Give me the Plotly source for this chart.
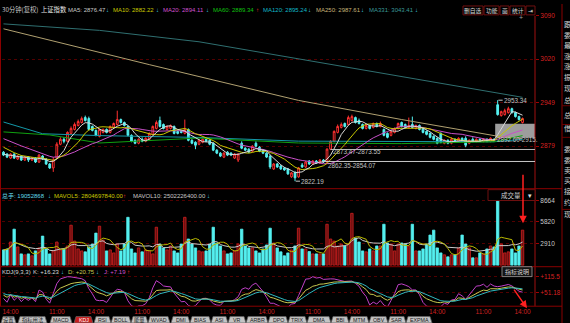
import numpy as np
import pandas as pd
import plotly.graph_objects as go

W, H = 570, 323
def px(x):
    return x / W
def py(y):
    return 1 - y / H

# ---------------- data ----------------
opens = [2869.2, 2866.0, 2859.6, 2866.0, 2858.0, 2862.8, 2856.4, 2861.2, 2856.4, 2859.6,
         2853.2, 2862.8, 2858.0, 2850.0, 2843.6, 2859.6, 2882.0, 2890.0, 2886.8, 2899.6,
         2906.0, 2912.4, 2917.2, 2925.2, 2923.6, 2910.8, 2904.4, 2894.8, 2901.2, 2906.0,
         2901.2, 2909.2, 2914.0, 2922.0, 2917.2, 2910.8, 2896.4, 2888.4, 2883.6, 2890.0,
         2886.8, 2890.0, 2898.0, 2907.6, 2920.4, 2914.0, 2906.0, 2907.6, 2910.8, 2902.8,
         2902.8, 2899.6, 2906.0, 2888.4, 2885.2, 2882.0, 2885.2, 2890.0, 2888.4, 2883.6,
         2872.4, 2867.6, 2861.2, 2869.2, 2867.6, 2859.6, 2856.4, 2883.6, 2875.6, 2874.0,
         2870.8, 2883.6, 2877.2, 2872.4, 2867.6, 2862.8, 2842.0, 2850.0, 2846.8, 2843.6,
         2842.0, 2829.2, 2835.6, 2829.2, 2848.4, 2845.2, 2854.8, 2850.0, 2854.8, 2851.6,
         2856.4, 2853.2, 2874.0, 2886.8, 2901.2, 2909.2, 2915.6, 2914.0, 2920.4, 2925.2,
         2920.4, 2914.0, 2907.6, 2912.4, 2909.2, 2915.6, 2910.8, 2906.0, 2899.6, 2896.4,
         2901.2, 2907.6, 2917.2, 2914.0, 2909.2, 2914.0, 2907.6, 2912.4, 2907.6, 2902.8,
         2899.6, 2894.8, 2891.6, 2899.6, 2883.6, 2888.4, 2883.6, 2890.0, 2886.8, 2891.6,
         2891.6, 2883.6, 2890.0, 2886.8, 2890.0, 2886.8, 2890.0, 2886.8, 2890.0, 2946.0,
         2928.4, 2930.0, 2933.2, 2939.6, 2933.2, 2926.8, 2917.2]
closes = [2864.4, 2861.2, 2866.0, 2859.6, 2862.8, 2856.4, 2861.2, 2856.4, 2859.6, 2853.2,
          2864.4, 2858.0, 2850.0, 2843.6, 2856.4, 2882.0, 2890.0, 2886.8, 2901.2, 2907.6,
          2914.0, 2918.8, 2923.6, 2920.4, 2906.0, 2904.4, 2896.4, 2906.0, 2906.0, 2901.2,
          2910.8, 2915.6, 2922.0, 2917.2, 2912.4, 2896.4, 2886.8, 2883.6, 2890.0, 2886.8,
          2891.6, 2899.6, 2910.8, 2917.2, 2910.8, 2907.6, 2910.8, 2912.4, 2899.6, 2899.6,
          2901.2, 2906.0, 2888.4, 2883.6, 2880.4, 2888.4, 2890.0, 2886.8, 2882.0, 2872.4,
          2867.6, 2862.8, 2867.6, 2864.4, 2864.4, 2866.0, 2866.0, 2875.6, 2872.4, 2869.2,
          2878.8, 2878.8, 2870.8, 2867.6, 2861.2, 2845.2, 2850.0, 2845.2, 2842.0, 2840.4,
          2834.0, 2835.6, 2827.6, 2843.6, 2845.2, 2853.2, 2850.0, 2854.8, 2851.6, 2856.4,
          2853.2, 2874.0, 2886.8, 2902.8, 2910.8, 2914.0, 2910.8, 2925.2, 2926.8, 2917.2,
          2915.6, 2907.6, 2912.4, 2907.6, 2915.6, 2910.8, 2915.6, 2896.4, 2893.2, 2902.8,
          2907.6, 2915.6, 2910.8, 2909.2, 2912.4, 2909.2, 2912.4, 2906.0, 2901.2, 2898.0,
          2893.2, 2890.0, 2883.6, 2885.2, 2888.4, 2883.6, 2890.0, 2886.8, 2891.6, 2886.8,
          2880.4, 2888.4, 2886.8, 2890.0, 2888.4, 2890.0, 2886.8, 2891.6, 2888.4, 2930.0,
          2934.8, 2936.4, 2939.6, 2933.2, 2926.8, 2922.0, 2923.6]
highs = [2870.8, 2867.6, 2867.6, 2867.6, 2864.4, 2864.4, 2862.8, 2862.8, 2861.2, 2861.2,
         2866.0, 2864.4, 2859.6, 2851.6, 2861.2, 2885.2, 2893.2, 2893.2, 2902.8, 2910.8,
         2917.2, 2922.0, 2926.8, 2928.4, 2926.8, 2912.4, 2906.0, 2907.6, 2907.6, 2907.6,
         2912.4, 2917.2, 2936.4, 2923.6, 2918.8, 2912.4, 2898.0, 2890.0, 2891.6, 2893.2,
         2893.2, 2901.2, 2912.4, 2920.4, 2926.8, 2915.6, 2912.4, 2914.0, 2912.4, 2904.4,
         2904.4, 2922.0, 2907.6, 2890.0, 2886.8, 2890.0, 2891.6, 2891.6, 2890.0, 2885.2,
         2874.0, 2869.2, 2869.2, 2870.8, 2869.2, 2867.6, 2867.6, 2886.8, 2877.2, 2875.6,
         2880.4, 2886.8, 2878.8, 2874.0, 2869.2, 2864.4, 2851.6, 2851.6, 2848.4, 2845.2,
         2843.6, 2837.2, 2838.8, 2845.2, 2851.6, 2854.8, 2856.4, 2856.4, 2856.4, 2858.0,
         2858.0, 2875.6, 2888.4, 2904.4, 2914.0, 2917.2, 2917.2, 2928.4, 2930.0, 2926.8,
         2923.6, 2915.6, 2914.0, 2914.0, 2917.2, 2917.2, 2918.8, 2907.6, 2901.2, 2904.4,
         2909.2, 2917.2, 2918.8, 2915.6, 2925.2, 2926.8, 2914.0, 2914.0, 2909.2, 2904.4,
         2901.2, 2896.4, 2893.2, 2901.2, 2890.0, 2890.0, 2893.2, 2891.6, 2893.2, 2893.2,
         2894.8, 2890.0, 2893.2, 2891.6, 2891.6, 2891.6, 2891.6, 2893.2, 2891.6, 2953.34,
         2936.4, 2939.6, 2942.8, 2941.2, 2934.8, 2928.4, 2925.2]
lows = [2862.8, 2859.6, 2858.0, 2858.0, 2856.4, 2854.8, 2854.8, 2853.2, 2854.8, 2851.6,
        2851.6, 2856.4, 2848.4, 2842.0, 2837.2, 2858.0, 2880.4, 2883.6, 2885.2, 2898.0,
        2904.4, 2910.8, 2915.6, 2918.8, 2904.4, 2902.8, 2894.8, 2893.2, 2899.6, 2899.6,
        2899.6, 2907.6, 2912.4, 2915.6, 2910.8, 2894.8, 2885.2, 2882.0, 2882.0, 2885.2,
        2885.2, 2888.4, 2896.4, 2906.0, 2909.2, 2906.0, 2904.4, 2906.0, 2898.0, 2898.0,
        2899.6, 2898.0, 2886.8, 2882.0, 2874.0, 2880.4, 2883.6, 2885.2, 2880.4, 2870.8,
        2866.0, 2861.2, 2859.6, 2862.8, 2862.8, 2858.0, 2853.2, 2874.0, 2870.8, 2867.6,
        2869.2, 2877.2, 2869.2, 2866.0, 2859.6, 2842.0, 2840.4, 2843.6, 2840.4, 2838.8,
        2832.4, 2827.6, 2822.19, 2827.6, 2843.6, 2843.6, 2848.4, 2848.4, 2850.0, 2850.0,
        2851.6, 2851.6, 2872.4, 2885.2, 2899.6, 2907.6, 2909.2, 2912.4, 2918.8, 2915.6,
        2914.0, 2906.0, 2906.0, 2906.0, 2907.6, 2909.2, 2909.2, 2894.8, 2891.6, 2894.8,
        2899.6, 2906.0, 2909.2, 2907.6, 2907.6, 2907.6, 2906.0, 2904.4, 2899.6, 2896.4,
        2891.6, 2888.4, 2882.0, 2883.6, 2882.0, 2882.0, 2882.0, 2885.2, 2885.2, 2885.2,
        2877.2, 2882.0, 2885.2, 2885.2, 2886.8, 2885.2, 2885.2, 2885.2, 2886.8, 2928.4,
        2926.8, 2928.4, 2931.6, 2931.6, 2925.2, 2920.4, 2915.6]
volumes = [2050, 2180, 3110, 4830, 2450, 1520, 1390, 1520, 1260, 1920,
           2320, 3900, 2180, 1520, 1920, 3110, 2050, 2180, 2580, 5360,
           3240, 2180, 1920, 1790, 2450, 2840, 4300, 5230, 3370, 1920,
           2050, 1650, 2840, 1920, 2840, 6420, 2180, 1650, 2320, 1790,
           2050, 1920, 1520, 5090, 2840, 2320, 2050, 2580, 1920, 1650,
           2840, 6420, 3510, 2840, 2320, 1920, 1790, 1920, 2840, 5090,
           2980, 2580, 1920, 1520, 1650, 1920, 2840, 4830, 2580, 2320,
           2320, 1920, 1650, 2180, 2710, 4960, 2980, 2320, 1790, 1260,
           1650, 2050, 2580, 4960,
           2180, 2180, 1830, 1520, 1520, 1520, 1520, 5490, 3510, 3240,
           2580, 2840, 2580, 2840, 6950, 3640, 3110, 1920, 1790, 2180,
           1920, 2580, 2580, 5490, 2980, 2840, 1920, 2840, 2980, 2840,
           2580, 5490, 1920, 1920, 2180, 2840, 4040, 4700, 2320, 1650,
           1390, 1120, 1390, 1390, 2320, 4040, 2840, 2320, 990, 990,
           1650, 1520, 2180, 2580, 2450, 8660, 2840, 1650, 1790, 2180,
           1650, 2580, 4700]
# closes before the visible window (seed for the short moving averages)
prev_closes = [2912, 2910, 2908, 2906, 2905, 2903, 2902, 2901, 2902, 2901,
               2895, 2892, 2888, 2885, 2880, 2870, 2868, 2865, 2864]

# long moving averages (bar index, value)
ma60_idx = [0, 13, 27, 41, 55, 83, 112, 138, 146]
ma60_val = [2902, 2897, 2884, 2888, 2892, 2884, 2883, 2886, 2896]
ma120_idx = [0, 11, 27, 55, 83, 112, 138, 146]
ma120_val = [2918, 2899, 2896, 2893, 2887, 2887, 2886, 2890]
ma250_idx = [0, 41, 83, 112, 138, 146]
ma250_val = [3069, 3011, 2953, 2922, 2896, 2891]
ma331_idx = [0, 27, 55, 83, 122, 146]
ma331_val = [3077, 3066.5, 3048, 3020, 2981, 2958]

time_tick_idx = [2, 15, 26, 39, 50, 63, 74, 87, 98, 111, 122, 135, 146]
time_tick_text = ["14:00", "11:00", "14:00", "11:00", "14:00", "11:00", "14:00",
                  "11:00", "14:00", "11:00", "14:00", "11:00", "14:00"]
price_ticks = [3090, 3020, 2949, 2879]
vol_ticks = [8664, 5820, 2910]
kdj_ticks = [115.5, 51.18]
kdj_tick_text = ["+115.5", "+51.18"]

# ---------------- derived ----------------
N = len(closes)
idx = list(range(N))
allc = pd.Series(prev_closes + closes, dtype=float)
P = len(prev_closes)
ma5 = allc.rolling(5, min_periods=1).mean().values[P:]
ma10 = allc.rolling(10, min_periods=1).mean().values[P:]
ma20 = allc.rolling(20, min_periods=1).mean().values[P:]
vs = pd.Series(volumes, dtype=float)
mavol5 = vs.rolling(5, min_periods=1).mean().values
mavol10 = vs.rolling(10, min_periods=1).mean().values

K, D, J = [], [], []
k, d = 50.0, 50.0
for i in range(N):
    lo = min(lows[max(0, i - 8):i + 1])
    hi = max(highs[max(0, i - 8):i + 1])
    rsv = (closes[i] - lo) / (hi - lo) * 100 if hi > lo else 50
    k = 2 / 3 * k + rsv / 3
    d = 2 / 3 * d + k / 3
    K.append(k); D.append(d); J.append(3 * k - 2 * d)

RED = "#ff3030"
CYAN = "#54f0f0"
up = [c >= o for o, c in zip(opens, closes)]
vol_fill = ["#6a1010" if u else CYAN for u in up]
vol_line = ["#d02020" if u else CYAN for u in up]

FN = "Liberation Sans, Arial, Noto Sans CJK SC"
CJK = "Noto Sans CJK SC, Liberation Sans"
FS = 6.0

fig = go.Figure()

# long MAs
for ix, vv, col in [(ma331_idx, ma331_val, "#2f6f70"), (ma250_idx, ma250_val, "#b0a070"),
                    (ma120_idx, ma120_val, "#1498a8"), (ma60_idx, ma60_val, "#10a010")]:
    fig.add_trace(go.Scatter(x=ix, y=vv, mode="lines", line=dict(color=col, width=1),
                             xaxis="x", yaxis="y", hoverinfo="skip", showlegend=False))

fig.add_trace(go.Candlestick(x=idx, open=opens, high=highs, low=lows, close=closes,
                             increasing=dict(line=dict(color=RED, width=1), fillcolor="#000000"),
                             decreasing=dict(line=dict(color=CYAN, width=1), fillcolor=CYAN),
                             whiskerwidth=0, xaxis="x", yaxis="y", showlegend=False,
                             hoverinfo="skip"))
for arr, col in [(ma20, "#c850c8"), (ma10, "#c8c800"), (ma5, "#d8d8d8")]:
    fig.add_trace(go.Scatter(x=idx, y=arr, mode="lines", line=dict(color=col, width=1),
                             xaxis="x", yaxis="y", hoverinfo="skip", showlegend=False))

# volume
fig.add_trace(go.Bar(x=idx, y=volumes, width=0.68,
                     marker=dict(color=vol_fill, line=dict(color=vol_line, width=0.8)),
                     xaxis="x2", yaxis="y2", hoverinfo="skip", showlegend=False))
fig.add_trace(go.Scatter(x=idx, y=mavol10, mode="lines", line=dict(color="#c8c8c8", width=1),
                         xaxis="x2", yaxis="y2", hoverinfo="skip", showlegend=False))
fig.add_trace(go.Scatter(x=idx, y=mavol5, mode="lines", line=dict(color="#b8b800", width=1),
                         xaxis="x2", yaxis="y2", hoverinfo="skip", showlegend=False))

# KDJ
for arr, col in [(J, "#c040c8"), (K, "#c8c850"), (D, "#30b8c0")]:
    fig.add_trace(go.Scatter(x=idx, y=arr, mode="lines", line=dict(color=col, width=1),
                             xaxis="x3", yaxis="y3", hoverinfo="skip", showlegend=False))

XR = [-0.42, 149.5]
XD = [px(2), px(535)]
ax_common = dict(domain=XD, range=XR, showgrid=False, zeroline=False, showline=False,
                 fixedrange=True)
ytick_common = dict(showgrid=True, gridcolor="#520000", griddash="dot", gridwidth=1,
                    zeroline=False, ticks="outside", ticklen=3, tickcolor="#a00000",
                    fixedrange=True, side="right", tickmode="array")
fig.update_layout(
    width=W, height=H, autosize=False,
    margin=dict(l=0, r=0, t=0, b=0, pad=0),
    paper_bgcolor="#000000", plot_bgcolor="#000000",
    showlegend=False, bargap=0.3,
    xaxis=dict(ax_common, anchor="y", showticklabels=False, rangeslider=dict(visible=False)),
    xaxis2=dict(ax_common, anchor="y2", showticklabels=False, matches="x"),
    xaxis3=dict(ax_common, anchor="y3", matches="x", tickmode="array",
                tickvals=time_tick_idx, ticktext=time_tick_text, ticks="",
                tickfont=dict(family=FN, size=6.5, color="#d02020")),
    yaxis=dict(ytick_common, domain=[py(187), py(12)], range=[2810, 3090], anchor="x",
               tickvals=price_ticks, ticktext=[str(t) for t in price_ticks],
               tickfont=dict(family=FN, size=6.5, color="#d82020")),
    yaxis2=dict(ytick_common, domain=[py(265), py(188)], range=[-66, 10121], anchor="x2",
                tickvals=vol_ticks, ticktext=[str(t) for t in vol_ticks],
                tickfont=dict(family=FN, size=6.5, color="#c8c8c8")),
    yaxis3=dict(ytick_common, domain=[py(306), py(268)], range=[-5, 148], anchor="x3",
                tickvals=kdj_ticks, ticktext=kdj_tick_text,
                tickfont=dict(family=FN, size=6.5, color="#d82020")),
)

shapes = []
ann = []

def pline(x0, y0, x1, y1, col="#8a0000", w=1):
    shapes.append(dict(type="line", xref="paper", yref="paper", x0=px(x0), y0=py(y0),
                       x1=px(x1), y1=py(y1), line=dict(color=col, width=w)))

def ptext(x, y, t, col, size=FS, fam=FN, anchor="left"):
    ann.append(dict(xref="paper", yref="paper", x=px(x), y=py(y), text=t, showarrow=False,
                    xanchor=anchor, yanchor="middle", font=dict(family=fam, size=size, color=col),
                    borderpad=0))

# panel borders
pline(0.5, 12, 0.5, 306)
pline(535, 12, 535, 306, "#a01010")
pline(562, 0, 562, 323, "#8a0000")
pline(0, 187, 562, 187, "#8a0000")
pline(0, 266, 562, 266, "#8a0000")
pline(0, 306, 562, 306, "#8a0000")
for yy in [103, 122, 135, 208]:
    pline(562, yy, 570, yy, "#6a0000")

# grey range box and horizontal drawing lines (data coordinates)
shapes.append(dict(type="rect", xref="x", yref="y", x0=138.3, x1=149.5, y0=2892.6, y1=2915.0,
                   fillcolor="rgba(185,185,185,0.85)", line=dict(width=0), layer="below"))
shapes.append(dict(type="line", xref="x", yref="y", x0=92.0, x1=149.5, y0=2873.5, y1=2873.5,
                   line=dict(color="#b8b8b8", width=1)))
shapes.append(dict(type="line", xref="x", yref="y", x0=89.6, x1=149.5, y0=2854.07, y1=2854.07,
                   line=dict(color="#c8c8c8", width=1)))
shapes.append(dict(type="line", xref="x", yref="y", x0=139.2, x1=140.4, y0=2953.34, y1=2953.34,
                   line=dict(color="#c8c8c8", width=1)))
shapes.append(dict(type="line", xref="x", yref="y", x0=82.2, x1=83.4, y0=2822.19, y1=2822.19,
                   line=dict(color="#c8c8c8", width=1)))

def dtext(x, y, t, col="#c0c0c0", size=6.3):
    ann.append(dict(xref="x", yref="y", x=x, y=y, text=t, showarrow=False, xanchor="left",
                    yanchor="middle", font=dict(family=FN, size=size, color=col), borderpad=0))

dtext(140.4, 2953.34, "2953.34")
dtext(83.4, 2822.19, "2822.19")
dtext(92.4, 2870.0, "2873.47-2873.55")
dtext(91.0, 2848.0, "2862.35-2854.07")
dtext(138.6, 2889.5, "2892.60-2915.")

# header line
cy = "#40d8e8"
hdr = [(1, "30分钟(复权)", "#c8c8c8"), (40, "上证指数", "#e8e8e8"),
       (67, "MA5: 2876.47", "#c8c8c8"), (105, "↓", cy),
       (112, "MA10: 2882.22", "#c8c800"), (155, "↓", cy),
       (162, "MA20: 2894.11", "#d050d0"), (205, "↓", cy),
       (212, "MA60: 2889.34", "#10c010"), (255, "↑", RED),
       (262, "MA120: 2895.24", "#10b8c8"), (307, "↓", cy),
       (315, "MA250: 2987.61", "#c8b478"), (360, "↓", cy),
       (368, "MA331: 3043.41", "#3a9a9a"), (414, "↓", cy)]
for x, t, c in hdr:
    f = CJK if any(ord(ch) > 0x2000 and ch not in "↓↑" for ch in t) else FN
    ptext(x, 6, t, c, size=6.3 if f == CJK else FS, fam=f)

# top-right buttons
btns = [(463, 483, "删自选"), (484, 499, "功能"), (500, 509, "画"), (510, 525, "统计"), (526, 535, "⇥")]
for x0, x1, t in btns:
    shapes.append(dict(type="rect", xref="paper", yref="paper", x0=px(x0), x1=px(x1),
                       y0=py(11), y1=py(2), line=dict(color="#701010", width=1), fillcolor="#000000"))
    ptext((x0 + x1) / 2, 6.5, t, "#d8d8d8", size=5.8, fam=CJK, anchor="center")
ptext(521, 14, "+", "#a0a0a0", size=7, anchor="center")

# volume header
vh = [(1, "总手: 19052868", "#60d8e8"), (47, "↓", cy),
      (53, "MAVOL5: 2804697840.00", "#c8c800"), (122, "↑", RED),
      (132, "MAVOL10: 2502226400.00", "#c8c8c8"), (206, "↓", cy)]
for x, t, c in vh:
    ptext(x, 194, t, c, size=FS, fam=FN)
shapes.append(dict(type="rect", xref="paper", yref="paper", x0=px(488), x1=px(535),
                   y0=py(199), y1=py(188), line=dict(color="#701010", width=1), fillcolor="#000000"))
ptext(511, 193.5, "成交量", "#d0d0d0", size=6.5, fam=CJK, anchor="center")
ptext(530, 193.5, "▾", "#e0e0e0", size=6.5, anchor="center")

# KDJ header
kh = [(1, "KDJ(9,3,3)", "#d8d8d8"), (32, "K: +16.23", "#d8d8d8"), (59.5, "↓", cy),
      (67, "D: +20.75", "#c8c850"), (95, "↓", cy), (103, "J: +7.19", "#d050d0"), (125.5, "↑", RED)]
for x, t, c in kh:
    ptext(x, 271, t, c, size=FS)
shapes.append(dict(type="rect", xref="paper", yref="paper", x0=px(502), x1=px(532),
                   y0=py(276), y1=py(266), line=dict(color="#808080", width=1), fillcolor="#141414"))
ptext(517, 271, "指标说明", "#d0d0d0", size=6, fam=CJK, anchor="center")

# red arrows (tail offsets in pixels)
ann.append(dict(xref="paper", yref="paper", x=px(523), y=py(222), ax=0, ay=-50,
                showarrow=True, arrowhead=2, arrowsize=1,
                arrowwidth=1.5, arrowcolor="#ff2020", text=""))
ann.append(dict(xref="paper", yref="paper", x=px(527), y=py(308), ax=-14, ay=-20,
                showarrow=True, arrowhead=2, arrowsize=1,
                arrowwidth=1.5, arrowcolor="#ff2020", text=""))

# right side panel labels (cut off by the window edge, as in the original)
side_chars = ["跟", "委", "最", "涨", "涨", "振", "现", "总", "总", "借",
              "委", "委", "卖", "买", "接", "约", "现"]
side_y = [20, 31, 42, 52.5, 63, 73.5, 85, 97, 112, 126, 147, 157.5, 168, 178.5, 189, 200, 213]
for t, yy in zip(side_chars, side_y):
    ptext(563, yy, t, "#d0d0d0", size=7.2, fam=CJK)

# bottom tabs
tabs = [(1, 16, "设置"), (18, 47, "指标用法"), (50, 72, "MACD"), (74, 93, "KDJ"),
        (94, 111, "RSI"), (111, 131, "BOLL"), (131, 148, "能量"), (148, 170, "WVAD"),
        (171, 190, "DMI"), (190, 211, "BIAS"), (211, 228, "ASI"), (228, 246, "VR"),
        (246, 268, "ARBR"), (268, 288, "DPO"), (288, 307, "TRIX"), (307, 331, "DMA"),
        (331, 349, "BBI"), (349, 369, "MTM"), (369, 388, "OBV"), (388, 406, "SAR"),
        (406, 432, "EXPMA")]
for x0, x1, t in tabs:
    active = (t == "KDJ")
    fill = "#c81e1e" if active else "#c4c4c4"
    path = "M {a},{b} L {c},{d} L {e},{d} L {f},{b} Z".format(
        a=px(x0), b=py(323), c=px(x0 + 2), d=py(316.5), e=px(x1 - 2), f=px(x1))
    shapes.append(dict(type="path", xref="paper", yref="paper", path=path, fillcolor=fill,
                       line=dict(color="#606060", width=0.8)))
    isc = any(ord(ch) > 0x2000 for ch in t)
    ptext((x0 + x1) / 2, 320, t, "#ffffff" if active else "#202020", size=5.3,
          fam=CJK if isc else FN, anchor="center")

fig.update_layout(shapes=shapes, annotations=ann)
fig.write_html("out.html")
